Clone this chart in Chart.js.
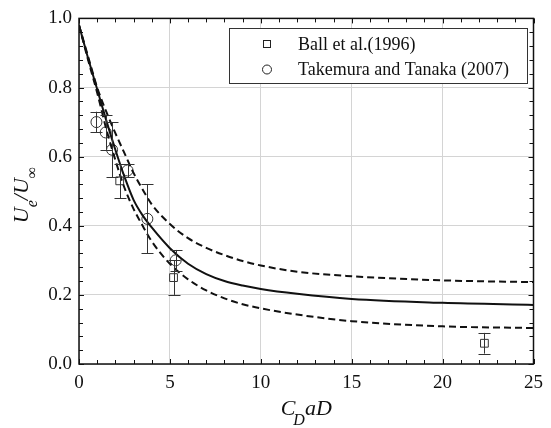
<!DOCTYPE html>
<html>
<head>
<meta charset="utf-8">
<script src="https://cdn.jsdelivr.net/npm/chart.js@4.4.1/dist/chart.umd.min.js"></script>
<style>
  html, body { margin: 0; padding: 0; background: #fff; }
  #wrap { width: 551px; height: 428px; }
</style>
</head>
<body>
<div id="wrap"><canvas id="grafico" width="551" height="428"></canvas></div>
<script>
// Curvas del modelo
const modeloX     = [0, 0.5, 1, 1.5, 2, 2.5, 3, 3.5, 4, 5, 6, 7, 8, 9, 10, 12, 15, 20, 25];
const modeloMedio = [0.98, 0.885, 0.795, 0.705, 0.62, 0.542, 0.475, 0.43, 0.395, 0.335, 0.29, 0.26, 0.24, 0.227, 0.217, 0.203, 0.188, 0.177, 0.171];
const modeloAlto  = [0.98, 0.89, 0.80, 0.73, 0.668, 0.61, 0.553, 0.505, 0.462, 0.405, 0.364, 0.336, 0.315, 0.298, 0.285, 0.267, 0.254, 0.242, 0.237];
const modeloBajo  = [0.98, 0.88, 0.785, 0.68, 0.59, 0.51, 0.449, 0.40, 0.355, 0.29, 0.245, 0.213, 0.19, 0.173, 0.161, 0.143, 0.124, 0.109, 0.104];

// Datos experimentales
const ballNombre = 'Ball et al.(1996)';
const ballX   = [2.24, 5.2, 22.3];
const ballY   = [0.53, 0.25, 0.06];
const ballErr = [0.05, 0.05, 0.03];

const takeNombre = 'Takemura and Tanaka (2007)';
const takeX   = [0.96, 1.47, 1.82, 2.67, 3.76, 5.32];
const takeY   = [0.70, 0.67, 0.62, 0.56, 0.42, 0.30];
const takeErr = [0.03, 0.05, 0.08, 0.02, 0.10, 0.03];

// Ejes
const xTicks = [0, 5, 10, 15, 20, 25];
const yTicks = [0, 0.2, 0.4, 0.6, 0.8, 1.0];

const serif = '"Liberation Serif", "Times New Roman", serif';
Chart.defaults.font.family = serif;
Chart.defaults.color = '#111';

function puntos(xs, ys) {
  return xs.map((x, i) => ({ x: x, y: ys[i] }));
}

// Barras de error
const barrasError = {
  id: 'barrasError',
  afterDatasetsDraw(chart) {
    const ctx = chart.ctx;
    const sx = chart.scales.x, sy = chart.scales.y;
    ctx.save();
    ctx.strokeStyle = '#333';
    ctx.lineWidth = 1;
    chart.data.datasets.forEach(ds => {
      if (!ds.errores) return;
      ds.data.forEach((p, i) => {
        const px = Math.round(sx.getPixelForValue(p.x)) + 0.5;
        const y1 = sy.getPixelForValue(p.y + ds.errores[i]);
        const y2 = sy.getPixelForValue(p.y - ds.errores[i]);
        ctx.beginPath();
        ctx.moveTo(px, y1); ctx.lineTo(px, y2);
        ctx.moveTo(px - 6, Math.round(y1) + 0.5); ctx.lineTo(px + 6, Math.round(y1) + 0.5);
        ctx.moveTo(px - 6, Math.round(y2) + 0.5); ctx.lineTo(px + 6, Math.round(y2) + 0.5);
        ctx.stroke();
      });
    });
    ctx.restore();
  }
};

// Marco, marcas hacia dentro, títulos y leyenda
const marcoYTextos = {
  id: 'marcoYTextos',
  afterDraw(chart) {
    const ctx = chart.ctx;
    const a = chart.chartArea;
    const sx = chart.scales.x, sy = chart.scales.y;
    ctx.save();

    // marcas menores y mayores
    ctx.strokeStyle = '#111';
    ctx.lineWidth = 1;
    ctx.beginPath();
    for (let v = 0; v <= 25; v += 1) {
      const px = Math.round(sx.getPixelForValue(v)) + 0.5;
      const len = v % 5 === 0 ? 5 : 4;
      ctx.moveTo(px, a.bottom); ctx.lineTo(px, a.bottom - len);
      ctx.moveTo(px, a.top); ctx.lineTo(px, a.top + len);
    }
    for (let k = 0; k <= 25; k++) {
      const v = k * 0.04;
      const py = Math.round(sy.getPixelForValue(v)) + 0.5;
      const len = k % 5 === 0 ? 5 : 4;
      ctx.moveTo(a.left, py); ctx.lineTo(a.left + len, py);
      ctx.moveTo(a.right, py); ctx.lineTo(a.right - len, py);
    }
    ctx.stroke();

    // marco
    ctx.lineWidth = 1.5;
    ctx.strokeRect(a.left, a.top, a.right - a.left, a.bottom - a.top);

    // título eje X: C_D aD
    const cx = (a.left + a.right) / 2;
    const fMain = 'italic 22px ' + serif;
    const fSub = 'italic 16px ' + serif;
    ctx.fillStyle = '#111';
    ctx.textBaseline = 'alphabetic';
    ctx.textAlign = 'left';
    ctx.font = fMain; const wC = ctx.measureText('C').width; const wAD = ctx.measureText('aD').width;
    ctx.font = fSub; const wD = ctx.measureText('D').width;
    let x0 = cx - (wC + wD - 2 + wAD) / 2;
    const base = 415;
    ctx.font = fMain; ctx.fillText('C', x0, base);
    ctx.font = fSub; ctx.fillText('D', x0 + wC - 2, base + 10);
    ctx.font = fMain; ctx.fillText('aD', x0 + wC - 2 + wD, base);

    // título eje Y: U_e / U_∞
    ctx.translate(28, 195);
    ctx.rotate(-Math.PI / 2);
    ctx.font = fMain; const wU = ctx.measureText('U').width; const wSl = ctx.measureText('/U').width;
    ctx.font = fSub; const we = ctx.measureText('e').width; const winf = ctx.measureText('\u221E').width;
    let t = -(wU + we + wSl + winf) / 2;
    ctx.font = fMain; ctx.fillText('U', t, 0); t += wU;
    ctx.font = fSub; ctx.fillText('e', t, 9); t += we;
    ctx.font = fMain; ctx.fillText('/U', t, 0); t += wSl;
    ctx.font = '16px ' + serif; ctx.fillText('\u221E', t, 9);
    ctx.setTransform(1, 0, 0, 1, 0, 0);

    // leyenda
    const lx = 229.5, ly = 28.5, lw = 298, lh = 55;
    ctx.fillStyle = '#fff';
    ctx.fillRect(lx, ly, lw, lh);
    ctx.strokeStyle = '#333';
    ctx.lineWidth = 1;
    ctx.strokeRect(lx, ly, lw, lh);
    ctx.strokeStyle = '#222';
    ctx.strokeRect(263.5, 40.5, 7, 7);
    ctx.beginPath();
    ctx.arc(267, 69.5, 4.5, 0, Math.PI * 2);
    ctx.stroke();
    ctx.fillStyle = '#111';
    ctx.font = '18px ' + serif;
    ctx.textBaseline = 'middle';
    ctx.fillText(ballNombre, 298, 45);
    ctx.fillText(takeNombre, 298, 70);
    ctx.restore();
  }
};

const lineaBase = {
  type: 'scatter',
  showLine: true,
  pointRadius: 0,
  borderColor: '#111',
  borderWidth: 2,
  cubicInterpolationMode: 'monotone',
  fill: false
};

new Chart(document.getElementById('grafico'), {
  type: 'scatter',
  data: {
    datasets: [
      Object.assign({}, lineaBase, { label: 'modelo', data: puntos(modeloX, modeloMedio) }),
      Object.assign({}, lineaBase, { label: 'alto', data: puntos(modeloX, modeloAlto), borderDash: [7, 4] }),
      Object.assign({}, lineaBase, { label: 'bajo', data: puntos(modeloX, modeloBajo), borderDash: [7, 4] }),
      {
        label: ballNombre,
        data: puntos(ballX, ballY),
        errores: ballErr,
        pointStyle: 'rect',
        pointRadius: 5.5,
        backgroundColor: 'rgba(0,0,0,0)',
        borderColor: '#333',
        borderWidth: 1
      },
      {
        label: takeNombre,
        data: puntos(takeX, takeY),
        errores: takeErr,
        pointStyle: 'circle',
        pointRadius: 5.5,
        backgroundColor: 'rgba(0,0,0,0)',
        borderColor: '#333',
        borderWidth: 1
      }
    ]
  },
  options: {
    responsive: false,
    animation: false,
    events: [],
    layout: { padding: { top: 13, right: 8, left: 0, bottom: 0 } },
    plugins: { legend: { display: false }, tooltip: { enabled: false } },
    scales: {
      x: {
        type: 'linear',
        min: 0, max: 25,
        afterBuildTicks: s => { s.ticks = xTicks.map(v => ({ value: v })); },
        afterFit: s => { s.height = 64; },
        ticks: { font: { size: 19 }, padding: 8, maxRotation: 0, color: '#111' },
        grid: { color: '#d4d4d4', lineWidth: 1, drawTicks: false },
        border: { display: false }
      },
      y: {
        type: 'linear',
        min: 0, max: 1,
        afterBuildTicks: s => { s.ticks = yTicks.map(v => ({ value: v })); },
        afterFit: s => { s.width = 79; },
        ticks: { font: { size: 19 }, padding: 7, color: '#111', callback: v => v.toFixed(1) },
        grid: { color: '#d4d4d4', lineWidth: 1, drawTicks: false },
        border: { display: false }
      }
    }
  },
  plugins: [barrasError, marcoYTextos]
});
</script>
</body>
</html>
